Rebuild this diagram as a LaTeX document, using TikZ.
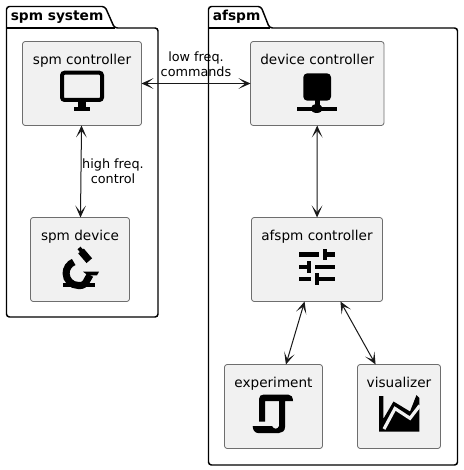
\documentclass[tikz,border=0pt]{standalone}
\usepackage{fontspec}
\setmainfont{DejaVu Sans}
\usetikzlibrary{arrows.meta}
\definecolor{boxfill}{HTML}{F1F1F1}
\definecolor{boxline}{HTML}{6E6E6E}
\definecolor{ink}{HTML}{181818}
\tikzset{
  px/.style={x=0.75pt,y=-0.75pt},
  pkg/.style={draw=black,line width=1.1pt,rounded corners=2.2pt},
  pkgtitle/.style={anchor=base west,inner sep=0pt,font=\fontsize{10.3pt}{12pt}\selectfont\bfseries},
  compbox/.style={draw=boxline,line width=0.6pt,fill=boxfill,rounded corners=2pt,inner sep=0pt,outer sep=0pt,
    minimum height=63pt,text height=16.9pt,text depth=46.1pt,font=\fontsize{10.2pt}{12pt}\selectfont},
  edgelabel/.style={align=center,inner sep=0pt,font=\fontsize{9.6pt}{11.3pt}\selectfont},
  link/.style={draw=ink,line width=0.75pt,{Stealth[length=9pt,width=8pt,inset=5pt]}-{Stealth[length=9pt,width=8pt,inset=5pt]}},
  icon/.style={fill=black,draw=none},
}
\begin{document}
\begin{tikzpicture}[px]
\useasboundingbox (0,0) rectangle (463,470);
\fill[white] (0,0) rectangle (463,470);
% packages
\draw[pkg] (6.5,28) -- (6.5,6.5) -- (105,6.5) -- (114.5,28) -- (158,28) -- (158,317) -- (6.5,317) -- cycle;
\draw[line width=1.1pt] (6.5,28) -- (114.5,28);
\node[pkgtitle] (pkgspm) at (10.5,20.5) {spm system};
\draw[pkg] (208.5,28) -- (208.5,6.5) -- (261,6.5) -- (269.5,28) -- (457.5,28) -- (457.5,465) -- (208.5,465) -- cycle;
\draw[line width=1.1pt] (208.5,28) -- (269.5,28);
\node[pkgtitle] (pkgafspm) at (212.5,20.5) {afspm};
% components
\node[compbox,minimum width=89.25pt] (spmc) at (82,83.5) {spm controller};
\node[compbox,minimum width=74.25pt] (spmd) at (80,259.5) {spm device};
\node[compbox,minimum width=100.1pt] (devc) at (317.25,83.5) {device controller};
\node[compbox,minimum width=98.25pt] (afc) at (317,259.5) {afspm controller};
\node[compbox,minimum width=73.5pt] (expt) at (273.5,406.5) {experiment};
\node[compbox,minimum width=62.25pt] (vis) at (399,406.5) {visualizer};
% connectors
\draw[link] (spmc) -- (devc);
\draw[link] (spmc) -- (spmd);
\draw[link] (devc) -- (afc);
\draw[link] (afc) -- (expt);
\draw[link] (afc) -- (vis);
% edge labels
\node[edgelabel] (lowf) at (196,64.5) {low freq.\\commands};
\node[edgelabel] (highf) at (113,171) {high freq.\\control};
% monitor icon
\draw[black,line width=3pt,rounded corners=2pt] (62,72.7) rectangle (102,100);
\fill[icon] (78.3,101) rectangle (86,107);
\fill[icon] (74.3,106.7) rectangle (90,110.7);
% microscope icon
\fill[icon] (63.3,282.7) rectangle (95,286.7);
\draw[black,line width=5.3pt] (73.7,262) .. controls (69.1,263.9) and (66.1,268.3) .. (66.1,273.3)
  .. controls (66.1,280.04) and (71.56,285.5) .. (78.3,285.5)
  .. controls (82.28,285.5) and (82.04,285.58) .. (85.3,283.3) -- (90,275);
\fill[icon] (99,271.7) -- (97,275.3) -- (88,275.3) -- (83,271.7) -- cycle;
\draw[black,line width=5.5pt] (81,251) -- (89.3,260.7);
\draw[black,line width=3pt] (79,248) -- (82.3,251.7);
% server icon
\fill[icon,rounded corners=3pt] (303.3,73.3) rectangle (331,100.7);
\fill[icon] (315,100) rectangle (319.7,106);
\fill[icon] (296.7,106.7) rectangle (336.7,110.7);
\fill[icon] (316.7,108.6) ellipse [x radius=6,y radius=4.4];
% sliders icon
\fill[icon] (298.7,252.3) rectangle (318.7,256.7);
\fill[icon] (323,249) rectangle (327,260);
\fill[icon] (327,252.3) rectangle (335.3,256.7);
\fill[icon] (298.7,265) rectangle (307,269);
\fill[icon] (307,261) rectangle (311,272.7);
\fill[icon] (315.3,265) rectangle (335.3,269);
\fill[icon] (298.7,276.7) rectangle (311.3,280.7);
\fill[icon] (315.3,273) rectangle (318.7,285);
\fill[icon] (318.7,276.7) rectangle (335.3,280.7);
% scroll icon
\fill[icon] (259,421.7) -- (259,399) .. controls (259,396) and (261,394.5) .. (264,394.5)
  -- (288,394.5) .. controls (291,394.5) and (293,397) .. (293,401)
  -- (285,401) -- (285,427) .. controls (285,431) and (282,433) .. (279,433)
  -- (258,433) .. controls (255,433) and (252.7,430) .. (252.7,426)
  -- (272,426) .. controls (273,429) and (278,430) .. (279,426)
  -- (279,401) -- (265,401) -- (265,421.7) -- cycle;
% chart icon
\fill[icon] (379,396) -- (383.3,396) -- (383.3,419) -- (393.5,401.5) -- (410,411.5) -- (416.5,395) -- (419.3,398)
  -- (419.3,431.7) -- (379,431.7) -- cycle;
\draw[boxfill,line width=2.4pt] (384,429) -- (395,408.5) -- (410,418.3) -- (419.8,405.5);
\end{tikzpicture}
\end{document}
